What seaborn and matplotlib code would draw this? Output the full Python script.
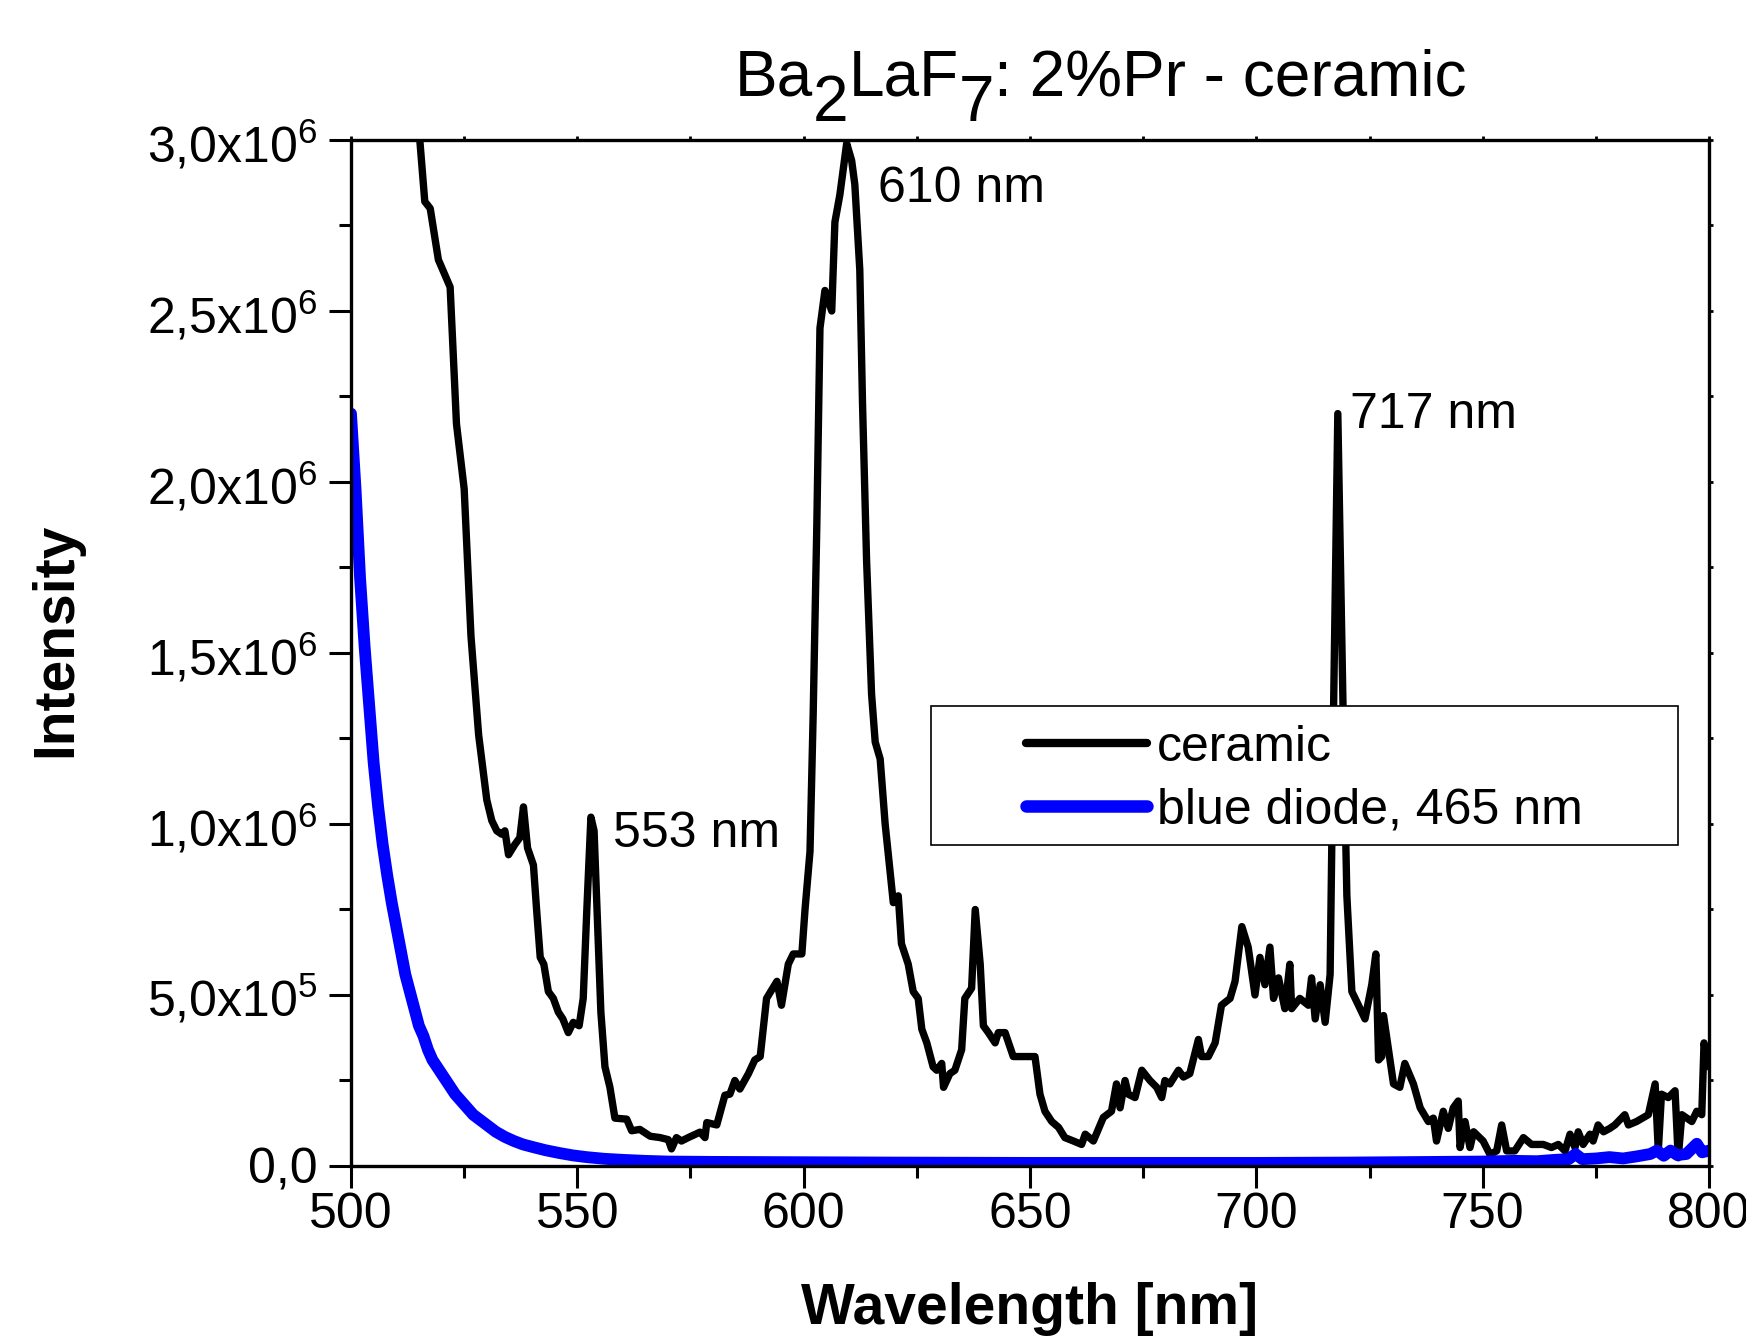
import numpy as np
import pandas as pd
import matplotlib
matplotlib.use("Agg")
import matplotlib.pyplot as plt
import seaborn as sns
from matplotlib.ticker import MultipleLocator, FuncFormatter
from matplotlib.patches import Rectangle
from matplotlib.lines import Line2D

# emission spectrum, intensity in units of 10^6
ceramic_nm = [512.5, 515.2, 516.3, 517.5, 519.3, 521.9, 523.3, 525.0, 526.5, 528.2,
              530.0, 531.1, 532.2, 533.3, 534.0, 534.8, 536.2, 537.3, 538.1, 539.0,
              540.3, 541.0, 541.8, 542.6, 543.6, 544.7, 545.8, 546.8, 548.0, 549.1,
              550.4, 551.3, 552.1, 553.0, 553.7, 554.4, 555.2, 556.1, 557.2, 558.3,
              560.9, 562.0, 563.8, 566.1, 568.3, 570.1, 570.8, 571.9, 573.0, 574.5,
              577.1, 578.2, 578.6, 580.8, 582.6, 583.7, 584.8, 585.9, 587.8, 589.2,
              590.4, 591.8, 594.1, 595.1, 596.6, 597.7, 599.6, 600.3, 601.4, 602.1,
              602.9, 603.6, 604.7, 606.2, 606.9, 608.0, 609.5, 610.6, 611.3, 612.4,
              613.0, 613.9, 615.0, 615.8, 616.9, 618.0, 619.8, 620.9, 621.6, 623.1,
              624.2, 625.3, 626.1, 627.2, 628.6, 629.4, 630.5, 630.9, 632.3, 633.4,
              634.9, 635.6, 637.1, 637.9, 639.0, 639.7, 640.8, 642.3, 643.0, 644.5,
              646.3, 647.4, 648.5, 649.6, 651.1, 652.2, 653.3, 654.8, 656.3, 657.7,
              659.6, 661.4, 662.2, 664.0, 666.2, 668.0, 669.1, 669.9, 671.0, 671.7,
              673.2, 674.7, 676.5, 678.0, 679.1, 679.8, 680.9, 682.8, 683.9, 685.3,
              687.2, 687.9, 689.4, 690.9, 692.3, 694.2, 695.3, 696.8, 698.2, 699.7,
              700.8, 701.9, 703.0, 703.8, 704.9, 706.3, 707.4, 707.8, 709.6, 711.5,
              712.2, 713.0, 714.1, 715.2, 716.3, 717.0, 718.0, 719.1, 720.0, 721.1,
              722.2, 724.0, 725.5, 726.4, 727.0, 727.7, 728.1, 729.2, 730.3, 731.7,
              732.8, 734.7, 736.2, 738.0, 739.1, 739.8, 741.3, 742.4, 743.5, 744.6,
              745.0, 746.1, 747.2, 748.0, 750.1, 751.6, 753.1, 754.2, 755.3, 757.1,
              759.0, 760.8, 763.4, 765.2, 766.7, 768.2, 769.3, 770.4, 771.1, 772.2,
              773.7, 774.4, 775.5, 776.7, 778.1, 779.2, 781.4, 782.2, 784.0, 786.6,
              788.1, 788.8, 789.5, 791.0, 792.5, 793.2, 794.0, 796.2, 797.3, 798.4,
              798.9, 799.9, 800.6]
ceramic_int = [3.40, 3.00, 2.82, 2.80, 2.65, 2.57, 2.17, 1.98, 1.55, 1.26,
               1.07, 1.01, 0.98, 0.97, 0.98, 0.91, 0.94, 0.96, 1.05, 0.93,
               0.88, 0.75, 0.61, 0.59, 0.51, 0.49, 0.45, 0.43, 0.39, 0.42,
               0.41, 0.49, 0.75, 1.02, 0.98, 0.73, 0.45, 0.29, 0.23, 0.14,
               0.137, 0.103, 0.107, 0.087, 0.083, 0.077, 0.05, 0.083, 0.073, 0.083,
               0.099, 0.083, 0.127, 0.12, 0.207, 0.21, 0.25, 0.225, 0.27, 0.31,
               0.32, 0.49, 0.54, 0.47, 0.59, 0.62, 0.62, 0.75, 0.92, 1.32,
               1.87, 2.45, 2.56, 2.50, 2.76, 2.84, 2.99, 2.94, 2.87, 2.62,
               2.23, 1.77, 1.38, 1.24, 1.19, 1.00, 0.77, 0.79, 0.65, 0.59,
               0.51, 0.49, 0.40, 0.36, 0.29, 0.28, 0.30, 0.23, 0.27, 0.28,
               0.34, 0.49, 0.52, 0.75, 0.59, 0.41, 0.39, 0.36, 0.39, 0.39,
               0.32, 0.32, 0.32, 0.32, 0.32, 0.21, 0.16, 0.13, 0.113, 0.083,
               0.073, 0.063, 0.093, 0.073, 0.142, 0.16, 0.24, 0.17, 0.25, 0.21,
               0.20, 0.28, 0.25, 0.23, 0.20, 0.25, 0.24, 0.28, 0.26, 0.27,
               0.37, 0.32, 0.32, 0.36, 0.47, 0.49, 0.54, 0.70, 0.64, 0.50,
               0.61, 0.53, 0.64, 0.49, 0.55, 0.46, 0.59, 0.46, 0.49, 0.47,
               0.55, 0.43, 0.53, 0.42, 0.56, 1.28, 2.20, 1.38, 0.79, 0.51,
               0.48, 0.43, 0.53, 0.62, 0.31, 0.32, 0.44, 0.34, 0.24, 0.23,
               0.30, 0.24, 0.17, 0.13, 0.14, 0.073, 0.16, 0.11, 0.17, 0.19,
               0.054, 0.13, 0.054, 0.10, 0.073, 0.034, 0.044, 0.12, 0.044, 0.044,
               0.083, 0.063, 0.063, 0.054, 0.063, 0.044, 0.093, 0.054, 0.10, 0.063,
               0.093, 0.073, 0.12, 0.10, 0.11, 0.12, 0.15, 0.12, 0.13, 0.15,
               0.24, 0.044, 0.21, 0.20, 0.22, 0.024, 0.15, 0.13, 0.16, 0.15,
               0.36, 0.29, 0.32]

diode_nm = [500.0, 501.0, 502.0, 503.0, 504.0, 505.0, 506.0, 507.0, 508.0, 509.0,
            510.0, 511.0, 512.0, 513.0, 514.0, 515.0, 516.0, 517.0, 518.0, 519.0,
            520.0, 521.0, 522.0, 523.0, 524.0, 525.0, 526.0, 527.0, 528.0, 529.0,
            530.0, 532.0, 534.0, 536.0, 538.0, 540.0, 543.0, 546.0, 549.0, 552.0,
            556.0, 560.0, 565.0, 570.0, 580.0, 600.0, 620.0, 650.0, 680.0, 700.0,
            720.0, 740.0, 750.0, 757.0, 762.0, 766.0, 769.0, 770.5, 772.0, 775.0,
            778.0, 781.0, 784.0, 787.0, 788.5, 790.0, 791.5, 793.0, 795.0, 797.3,
            798.5, 800.0]
diode_int = [2.20, 1.98, 1.72, 1.52, 1.35, 1.18, 1.05, 0.94, 0.85, 0.77,
             0.70, 0.63, 0.56, 0.51, 0.46, 0.41, 0.38, 0.34, 0.31, 0.29,
             0.27, 0.25, 0.23, 0.21, 0.195, 0.18, 0.165, 0.15, 0.14, 0.13,
             0.12, 0.10, 0.085, 0.073, 0.063, 0.056, 0.046, 0.038, 0.031, 0.026,
             0.021, 0.018, 0.015, 0.013, 0.012, 0.011, 0.010, 0.009, 0.009, 0.009,
             0.010, 0.012, 0.013, 0.015, 0.014, 0.018, 0.020, 0.035, 0.020, 0.022,
             0.026, 0.022, 0.028, 0.035, 0.045, 0.030, 0.045, 0.032, 0.035, 0.065,
             0.040, 0.045]

peak_labels = ["553 nm", "610 nm", "717 nm"]
peak_x = [557.9, 616.5, 720.7]
peak_y = [0.933, 2.82, 2.159]

legend_labels = ["ceramic", "blue diode, 465 nm"]

df_c = pd.DataFrame({"nm": ceramic_nm, "I": ceramic_int})
df_d = pd.DataFrame({"nm": diode_nm, "I": diode_int})

sns.set_style("ticks")
plt.rcParams["font.family"] = ["Liberation Sans", "DejaVu Sans"]
plt.rcParams["mathtext.fontset"] = "custom"
plt.rcParams["mathtext.rm"] = "Liberation Sans"
plt.rcParams["mathtext.default"] = "regular"
for k in ["text.color", "axes.labelcolor", "xtick.color", "ytick.color", "axes.edgecolor"]:
    plt.rcParams[k] = "black"

fig = plt.figure(figsize=(17.46, 13.43), dpi=100)
ax = fig.add_axes([0.20103, 0.13180, 0.77778, 0.76396])

sns.lineplot(data=df_c, x="nm", y="I", sort=False, color="black", linewidth=5.3, ax=ax, legend=False)
sns.lineplot(data=df_d, x="nm", y="I", sort=False, color="#0000ff", linewidth=8.5, ax=ax, legend=False)

ax.set_xlim(500, 800)
ax.set_ylim(0, 3.0)
ax.xaxis.set_major_locator(MultipleLocator(50))
ax.xaxis.set_minor_locator(MultipleLocator(25))
ax.yaxis.set_major_locator(MultipleLocator(0.5))
ax.yaxis.set_minor_locator(MultipleLocator(0.25))


def sci_comma(v, pos):
    if v < 1e-9:
        return "0,0"
    real = v * 1e6
    e = int(np.floor(np.log10(real) + 1e-9))
    m = real / 10 ** e
    return ("%.1f" % m).replace(".", ",") + r"x10$^{%d}$" % e


ax.yaxis.set_major_formatter(FuncFormatter(sci_comma))
ax.tick_params(which="major", length=16, width=2.2, pad=8, labelsize=36, direction="out")
ax.tick_params(axis="x", which="major", pad=3)
ax.tick_params(which="minor", length=8.5, width=2.2, direction="out")
for s in ax.spines.values():
    s.set_linewidth(2.4)

secx = ax.secondary_xaxis("top")
secx.set_xticks(np.arange(500, 801, 25))
secx.set_xticklabels([])
secx.tick_params(length=3, width=2, direction="out")
secy = ax.secondary_yaxis("right")
secy.set_yticks(np.arange(0, 3.01, 0.25))
secy.set_yticklabels([])
secy.tick_params(length=3, width=2, direction="out")

ax.set_xlabel("Wavelength [nm]", fontsize=41, fontweight="bold")
ax.set_ylabel("Intensity", fontsize=41, fontweight="bold")
ax.xaxis.set_label_coords(0.5, -0.113)
ax.yaxis.set_label_coords(-0.197, 0.513)

for t, x, y in zip(peak_labels, peak_x, peak_y):
    ax.text(x, y, t, fontsize=36, ha="left", va="baseline")

# legend box
ax.add_patch(Rectangle((0.427, 0.313), 0.550, 0.135, transform=ax.transAxes,
                       facecolor="white", edgecolor="black", lw=1.2, zorder=9))
handles = [Line2D([], [], color="black", lw=6), Line2D([], [], color="#0000ff", lw=9)]
leg = ax.legend(handles, legend_labels, loc="center", bbox_to_anchor=(0.7018, 0.377),
                frameon=False, fontsize=36, handlelength=2.42, handletextpad=0.2,
                labelspacing=0.33, borderpad=0)
leg.set_zorder(10)

# title with full-size lowered subscripts
parts = [("Ba", 0), ("2", -25), ("LaF", 25), ("7", -25), (": 2%Pr - ceramic", 25)]
prev = fig.text(735 / 1746, 1 - 96 / 1343, parts[0][0], fontsize=46, ha="left", va="baseline")
for txt, dy in parts[1:]:
    prev = ax.annotate(txt, xy=(1, 0), xycoords=prev, xytext=(0, dy),
                       textcoords="offset pixels", fontsize=46, ha="left",
                       va="bottom", annotation_clip=False)

fig.savefig("out.png", dpi=100)
